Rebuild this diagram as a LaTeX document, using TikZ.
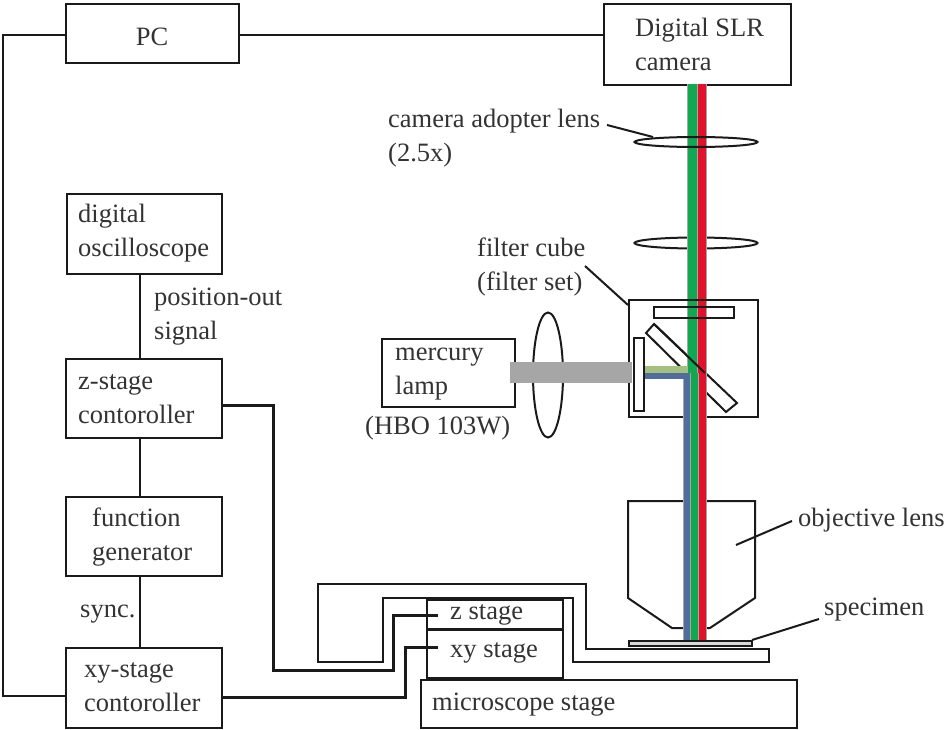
\documentclass[tikz,border=0pt]{standalone}
\usepackage{fontspec}
\setmainfont{Liberation Serif}
\usetikzlibrary{shapes.geometric}
\definecolor{linek}{HTML}{1A1A1A}
\definecolor{rayg}{HTML}{12A851}
\definecolor{rayr}{HTML}{E0112B}
\definecolor{rayb}{HTML}{4F6E9E}
\definecolor{rayl}{HTML}{A3C07F}
\tikzset{
 x=1pt,y=-1pt,
 every node/.style={font=\fontsize{26.5}{34}\selectfont,text=black!80,inner sep=0pt},
 box/.style={draw=linek,line width=2.2pt,fill=white,align=left},
 wire/.style={draw=linek,line width=2.6pt},
 heavy wire/.style={draw=linek,line width=3pt},
 thin wire/.style={draw=linek,line width=2pt},
 lbl/.style={align=left,anchor=west,yshift=-2.5pt},
}
\begin{document}
\begin{tikzpicture}
\useasboundingbox (0,0) rectangle (947,730);
\fill[white] (0,0) rectangle (947,730);

% boxes
\node[box,minimum width=173pt,minimum height=59pt,anchor=north west] (pc) at (65,3) {};
\node (pct) at (152,37) {PC};
\node[box,minimum width=187pt,minimum height=81pt,anchor=north west] (cam) at (603,3) {};
\node[lbl] (camt) at (635,41.5) {Digital SLR\\camera};
\node[box,minimum width=155pt,minimum height=80pt,anchor=north west] (osc) at (66,193) {};
\node[lbl] (osct) at (78,231) {digital\\oscilloscope};
\node[box,minimum width=156pt,minimum height=79pt,anchor=north west] (zc) at (65,358) {};
\node[lbl] (zct) at (78,397) {z-stage\\contoroller};
\node[box,minimum width=156pt,minimum height=79pt,anchor=north west] (fg) at (65,496) {};
\node[lbl] (fgt) at (92,535) {function\\generator};
\node[box,minimum width=156pt,minimum height=80pt,anchor=north west] (xc) at (65,647) {};
\node[lbl] (xct) at (84,685) {xy-stage\\contoroller};

% connectors on the left
\coordinate (pcl) at (3,35);
\coordinate (xcl) at (3,696);
\draw[wire] (pc.west |- pcl) -- (pcl) -- (xcl) -- (xc.west |- xcl);
\draw[wire] (pc.east |- 0,35) -- (cam.west |- 0,35);
\draw[wire] (osc.south -| 140,0) -- (zc.north -| 140,0);
\draw[wire] (zc.south -| 140,0) -- (fg.north -| 140,0);
\draw[wire] (fg.south -| 140,0) -- (xc.north -| 140,0);
\node[lbl] (post) at (154,314) {position-out\\signal};
\node[lbl] (synct) at (80,612) {sync.};

% stage frame
\draw[thin wire] (586,584) -- (318,584) -- (318,662) -- (383,662) -- (383,598) -- (573,598) -- (573,662) -- (769,662) -- (769,649) -- (586,649) -- cycle;
% stage boxes
\node[box,minimum width=376pt,minimum height=48pt,anchor=north west] (ms) at (420,679) {};
\node[lbl] (mst) at (432,702) {microscope stage};
\node[box,minimum width=136pt,minimum height=30pt,anchor=north west] (zs) at (426,599) {};
\node[lbl] (zst) at (450,612) {z stage};
\node[box,minimum width=136pt,minimum height=48pt,anchor=north west] (xys) at (426,629) {};
\node[lbl] (xyt) at (450,650) {xy stage};
\draw[heavy wire] (xys.north west) -- (xys.north east);
\draw[heavy wire] (xys.south west) -- (xys.south east);
\draw[heavy wire] (zs.north west) -- (zs.north east);
\coordinate (zsend) at (438,615);
\coordinate (xysend) at (438,647);
\draw[heavy wire] (zc.east |- 0,405) -- (273,405) -- (273,670) -- (393,670) -- (393,615) -- (zsend);
\draw[heavy wire] (xc.east |- 0,697) -- (405,697) -- (405,647) -- (xysend);

% objective
\draw[thin wire] (628,501) -- (755,501) -- (755,598) -- (710,628) -- (672,628) -- (628,598) -- cycle;
\draw[thin wire] (736,545) -- (792,521);
\node[lbl] (objt) at (798,518) {objective lens};

% filter cube and mirror under the rays
\draw[line width=2.2pt,draw=linek] (629,300) rectangle (758,417);
\draw[thin wire] (646,333) -- (654,324) -- (737,403) -- (726,412) -- cycle;

% second lens under the rays
\node[draw=linek,line width=2pt,ellipse,minimum width=123pt,minimum height=11pt] (l2) at (696,243) {};

% rays
\fill[black!35] (686.5,84) rectangle (707,373);
\fill[rayg] (687.5,84) rectangle (696.5,373);
\fill[rayr] (698,84) rectangle (706,373);
\fill[black!35] (683,379) rectangle (707,641);
\fill[black!35] (689,373) rectangle (707,379);
\fill[rayb] (684,379) rectangle (690,641);
\fill[rayg] (690.5,373) rectangle (698,641);
\fill[rayr] (699,373) rectangle (706,641);

% first lens, filter and upper mirror edge over the rays
\node[draw=linek,line width=2pt,ellipse,minimum width=123pt,minimum height=10pt] (l1) at (696,142) {};
\draw[thin wire] (607,125) -- (653,137);
\node[lbl] (lenst) at (388,119) {camera adopter lens};
\node[lbl] (lensu) at (388,153) {(2.5x)};
\draw[thin wire] (629,300) -- (758,300);
\draw[thin wire] (654,307) rectangle (734,318);
\draw[thin wire] (654,324) -- (705,373);
\draw[thin wire] (634,338) rectangle (644,411);
\draw[thin wire] (585,266) -- (628,305);
\node[lbl] (cubet) at (477,264) {filter cube\\(filter set)};

% illumination
\fill[rayl] (645,366) rectangle (688,373);
\fill[rayb] (645,373) rectangle (690,379);

% lamp
\node[box,minimum width=133pt,minimum height=68pt,anchor=north west] (lamp) at (381,338) {};
\node[lbl] (lampt) at (395,372) {mercury\\lamp};
\node[lbl] (hbo) at (365,426) {(HBO 103W)};
\node[draw=linek,line width=2pt,ellipse,minimum width=30pt,minimum height=125pt] (ll) at (548,375) {};
\fill[black!35] (510,362) rectangle (632,383);

% specimen
\draw[draw=linek,line width=2pt,fill=black!15] (629,641) rectangle (752,646);
\draw[thin wire] (752,640) -- (819,619);
\node[lbl] (spec) at (824,607) {specimen};
\end{tikzpicture}
\end{document}
